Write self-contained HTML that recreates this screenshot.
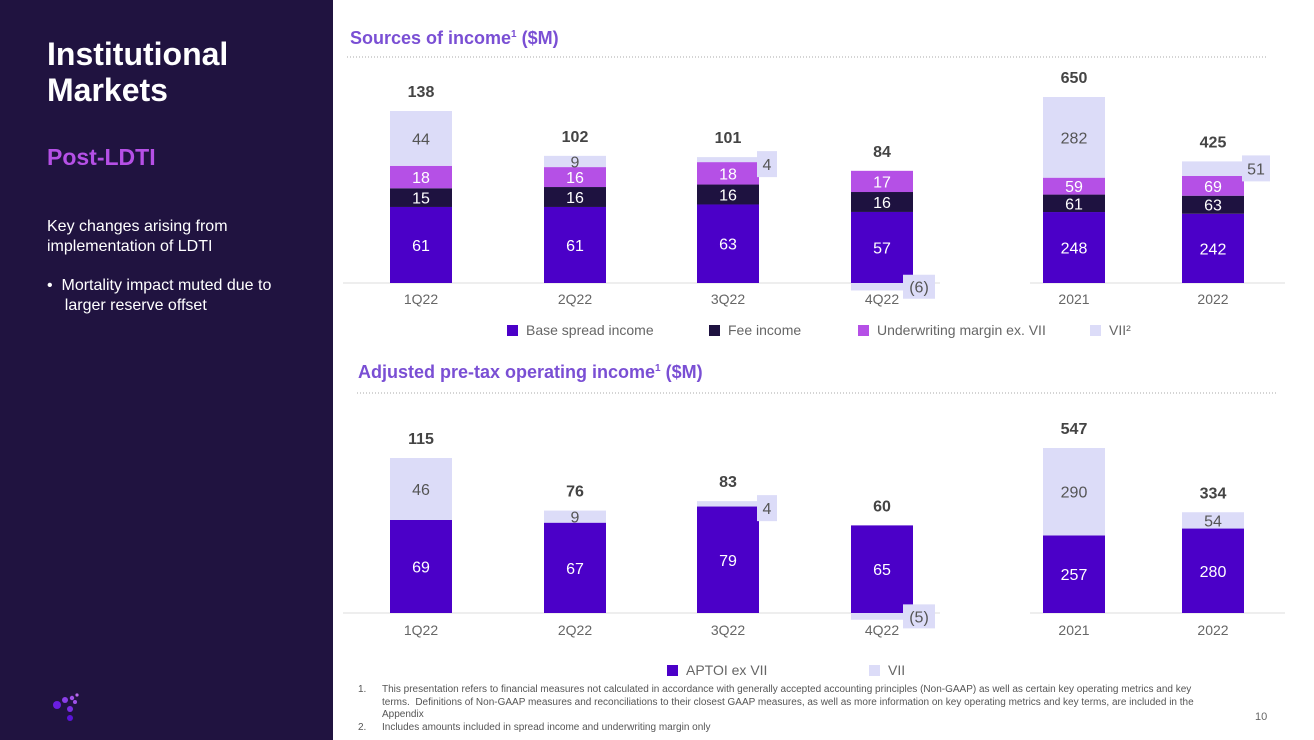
<!DOCTYPE html>
<html><head><meta charset="utf-8">
<style>
body{margin:0;width:1314px;height:740px;overflow:hidden;background:#fff;font-family:"Liberation Sans",sans-serif;position:relative}
#left{position:absolute;left:0;top:0;width:333px;height:740px;background:#201340}
.t{position:absolute;margin:0}
svg{position:absolute;left:0;top:0}
</style></head><body>
<div id="left">
<div class="t" style="left:47px;top:36px;color:#fff;font-size:32px;font-weight:bold;line-height:36px">Institutional<br>Markets</div>
<div class="t" style="left:47px;top:144px;color:#b550e6;font-size:23px;font-weight:bold">Post-LDTI</div>
<div class="t" style="left:47px;top:217px;color:#fff;font-size:16px;line-height:20px">Key changes arising from<br>implementation of LDTI</div>
<div class="t" style="left:47px;top:276px;color:#fff;font-size:16px;line-height:20px">•&nbsp;&nbsp;Mortality impact muted due to<br>&nbsp;&nbsp;&nbsp;&nbsp;larger reserve offset</div>
<svg width="333" height="740">
<circle cx="57" cy="705" r="4" fill="#6a1ee0"/><circle cx="65" cy="700" r="3" fill="#8a3ee8"/><circle cx="72" cy="698" r="2.2" fill="#a050ea"/><circle cx="77" cy="695" r="1.6" fill="#b868ee"/>
<circle cx="75" cy="702" r="2" fill="#a050ea"/><circle cx="70" cy="709" r="3" fill="#7a2ee4"/><circle cx="70" cy="718" r="3" fill="#5a14d8"/>
</svg>
</div>
<div class="t" style="left:350px;top:28px;color:#7a4fd4;font-size:18px;font-weight:bold">Sources of income<sup style="font-size:10px">1</sup> ($M)</div>
<div class="t" style="left:358px;top:362px;color:#7a4fd4;font-size:18px;font-weight:bold">Adjusted pre-tax operating income<sup style="font-size:10px">1</sup> ($M)</div>
<div class="t" style="left:358px;top:684px;color:#555;font-size:10px;line-height:12.5px;width:860px">
<div style="position:relative;padding-left:24px"><span style="position:absolute;left:0">1.</span>This presentation refers to financial measures not calculated in accordance with generally accepted accounting principles (Non-GAAP) as well as certain key operating metrics and key terms.&nbsp; Definitions of Non-GAAP measures and reconciliations to their closest GAAP measures, as well as more information on key operating metrics and key terms, are included in the Appendix</div>
<div style="position:relative;padding-left:24px"><span style="position:absolute;left:0">2.</span>Includes amounts included in spread income and underwriting margin only</div>
</div>
<div class="t" style="left:1255px;top:711px;color:#666;font-size:11px">10</div>
<svg id="ch" width="1314" height="740"></svg>
<script>
// Chart 1: Sources of income
const qCats=["1Q22","2Q22","3Q22","4Q22"];
const yCats=["2021","2022"];
const q1Base=[61,61,63,57], q1Fee=[15,16,16,16], q1Uw=[18,16,18,17], q1Vii=[44,9,4,-6], q1Tot=[138,102,101,84];
const y1Base=[248,242], y1Fee=[61,63], y1Uw=[59,69], y1Vii=[282,51], y1Tot=[650,425];
// Chart 2: APTOI
const q2Ap=[69,67,79,65], q2Vii=[46,9,4,-5], q2Tot=[115,76,83,60];
const y2Ap=[257,280], y2Vii=[290,54], y2Tot=[547,334];

const C={base:"#4b00c8",fee:"#1e1240",uw:"#b550e6",vii:"#dcdcf8"};
const svg=document.getElementById('ch');const NS="http://www.w3.org/2000/svg";
function mk(tag,a,name){const e=document.createElementNS(NS,tag);for(const k in a)e.setAttribute(k,a[k]);


svg.appendChild(e);return e;}
function txt(x,y,s,fill,size,name,weight){const t=mk('text',{x:x,y:y,fill:fill,'font-size':size,'text-anchor':'middle','font-family':'Liberation Sans, sans-serif','font-weight':weight||'normal'},name);t.textContent=s;return t;}
const W=62;
function fmt(v){return v<0?"("+(-v)+")":String(v);}
function drawGroup(cats,cx,base,scale,series,tot,prefix,tickY){
  const sy=v=>base-v*scale;
  cats.forEach((c,i)=>{
    let cum=0;
    series.forEach(s=>{
      const v=s.vals[i];
      if(v<0){
        const h=-v*scale;
        mk('rect',{x:cx[i]-W/2,y:base,width:W,height:h,fill:s.col},prefix+'-'+s.key+'-bar-'+c);
        mk('rect',{x:cx[i]+W/2-10,y:base+h/2-12,width:32,height:24,fill:C.vii},prefix+'-'+s.key+'-label-box-'+c);
        txt(cx[i]+W/2+6,base+h/2+6,fmt(v),'#555',16,prefix+'-'+s.key+'-label-'+c);
        return;
      }
      const y0=sy(cum),y1=sy(cum+v);
      mk('rect',{x:cx[i]-W/2,y:y1,width:W,height:y0-y1,fill:s.col},prefix+'-'+s.key+'-bar-'+c);
      const out=s.outside?s.outside(v,y0-y1):false;
      if(out){
        const bw=v>=10?28:20;
        mk('rect',{x:cx[i]+W/2-2,y:y1-6,width:bw,height:26,fill:C.vii},prefix+'-'+s.key+'-label-box-'+c);
        txt(cx[i]+W/2-2+bw/2,y1+13,fmt(v),'#555',16,prefix+'-'+s.key+'-label-'+c);
      } else {
        txt(cx[i],(y0+y1)/2+6,fmt(v),s.tc,16,prefix+'-'+s.key+'-label-'+c);
      }
      cum+=v;
    });
    const posTop=sy(series.reduce((a,s)=>a+Math.max(0,s.vals[i]),0));
    txt(cx[i],posTop-14,String(tot[i]),'#444',16,prefix+'-total-'+c,'bold');
    txt(cx[i],tickY,c,'#666',14,prefix+'-x-tick-'+c);
  });
}
const outQ=(v,h)=>h<8;
const outY=(v,h)=>h<15;
mk('line',{x1:347,y1:57,x2:1266,y2:57,stroke:'#aaa','stroke-dasharray':'1 2'},'chart1-divider');
mk('line',{x1:357,y1:393,x2:1276,y2:393,stroke:'#aaa','stroke-dasharray':'1 2'},'chart2-divider');
mk('line',{x1:343,y1:283,x2:940,y2:283,stroke:'#ddd'},'chart1-quarter-axis');
mk('line',{x1:1030,y1:283,x2:1285,y2:283,stroke:'#ddd'},'chart1-year-axis');
mk('line',{x1:343,y1:613,x2:940,y2:613,stroke:'#ddd'},'chart2-quarter-axis');
mk('line',{x1:1030,y1:613,x2:1285,y2:613,stroke:'#ddd'},'chart2-year-axis');
const qx=[421,575,728,882], yx=[1074,1213];
drawGroup(qCats,qx,283,172/138,[
 {key:'base',vals:q1Base,col:C.base,tc:'#fff'},{key:'fee',vals:q1Fee,col:C.fee,tc:'#fff'},
 {key:'uw',vals:q1Uw,col:C.uw,tc:'#fff'},{key:'vii',vals:q1Vii,col:C.vii,tc:'#555',outside:outQ}],q1Tot,'sources-q',304);
drawGroup(yCats,yx,283,186/650,[
 {key:'base',vals:y1Base,col:C.base,tc:'#fff'},{key:'fee',vals:y1Fee,col:C.fee,tc:'#fff'},
 {key:'uw',vals:y1Uw,col:C.uw,tc:'#fff'},{key:'vii',vals:y1Vii,col:C.vii,tc:'#555',outside:outY}],y1Tot,'sources-y',304);
drawGroup(qCats,qx,613,155/115,[
 {key:'aptoi',vals:q2Ap,col:C.base,tc:'#fff'},{key:'vii',vals:q2Vii,col:C.vii,tc:'#555',outside:outQ}],q2Tot,'aptoi-q',635);
drawGroup(yCats,yx,613,165/547,[
 {key:'aptoi',vals:y2Ap,col:C.base,tc:'#fff'},{key:'vii',vals:y2Vii,col:C.vii,tc:'#555',outside:outY}],y2Tot,'aptoi-y',635);
function leg(x,y,col,label,name){mk('rect',{x:x,y:y,width:11,height:11,fill:col},name+'-swatch');
 const t=mk('text',{x:x+19,y:y+10,fill:'#666','font-size':14,'font-family':'Liberation Sans, sans-serif'},name);t.textContent=label;}
leg(507,325,C.base,'Base spread income','legend-base-spread');
leg(709,325,C.fee,'Fee income','legend-fee-income');
leg(858,325,C.uw,'Underwriting margin ex. VII','legend-underwriting');
leg(1090,325,C.vii,'VII²','legend-vii');
leg(667,665,C.base,'APTOI ex VII','legend-aptoi');
leg(869,665,C.vii,'VII','legend-vii-2');
</script>
</body></html>
